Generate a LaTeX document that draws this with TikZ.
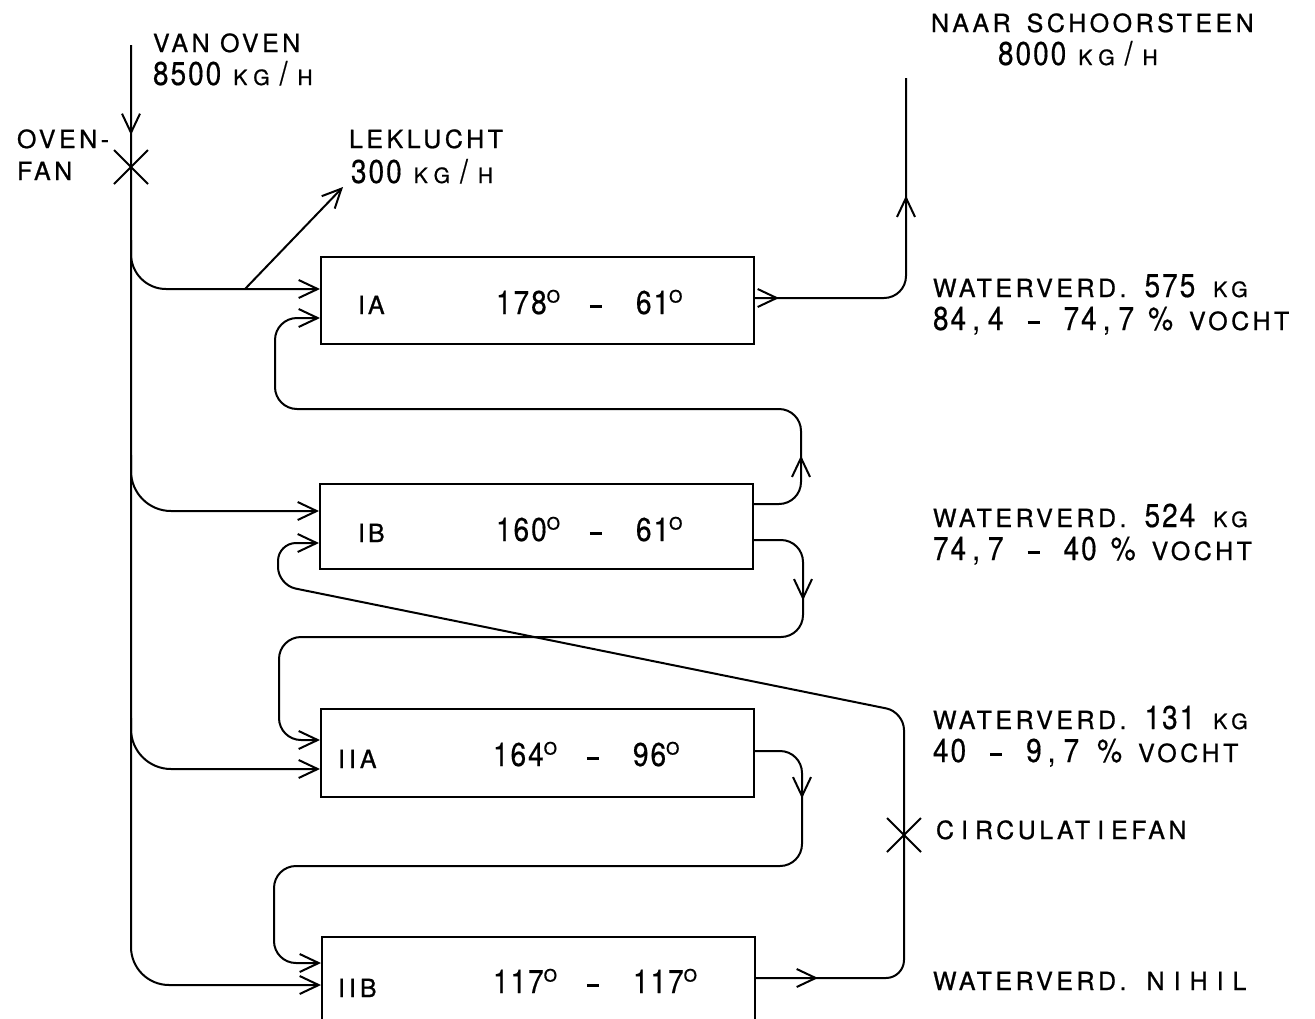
\documentclass[tikz,border=0pt]{standalone}
\usepackage{fontspec}
\setmainfont{TeX Gyre Heros}[LetterSpace=14,FakeBold=0.8]
\newfontfamily\digitfont{TeX Gyre Heros}[FakeStretch=0.85,LetterSpace=6,FakeBold=0.4]
\usetikzlibrary{arrows.meta,decorations.markings,shapes.misc}

\newcommand{\dg}[1]{{\digitfont\fontsize{33}{36}\selectfont #1}}
\newcommand{\sm}[1]{{\fontsize{21}{24}\selectfont #1}}
\newcommand{\degr}[1]{\dg{#1}\raisebox{11.5pt}{\fontsize{17}{17}\selectfont O}}
\newcommand{\dsh}{\rule[6pt]{12pt}{3.2pt}}
\newcommand{\cma}{\hspace{6pt}\dg{,}\hspace{8pt}}
\newcommand{\kgh}{\sm{K\hspace{6pt}G}\hspace{10pt}\dg{/}\hspace{10pt}\sm{H}}

\begin{document}
\begin{tikzpicture}[
    x=1pt, y=-1pt,
    line width=2pt,
    >={Straight Barb[length=19pt,width=18pt]},
    dryer/.style={
        draw,
        rectangle,
        minimum width=433pt,
        inner sep=0pt
    },
    lbl/.style={
        anchor=base west,
        inner sep=0pt,
        font=\fontsize{25}{30}\selectfont
    },
    fan/.style={
        draw,
        cross out,
        minimum size=32pt,
        inner sep=0pt
    },
    pipe/.style={
        rounded corners=22pt
    },
    flow/.style={
        pipe,
        ->
    },
    arrowat/.style={
        postaction={decorate, decoration={markings, mark=at position #1 with {\arrow{>}}}}
    }
]
\useasboundingbox (0,0) rectangle (1315,1018);
\clip (0,0) rectangle (1315,1018);

% drying sections
\node[dryer, minimum height=87pt] (IA) at (537.5,300.5) {};
\node[dryer, minimum height=85pt] (IB) at (536.5,526.5) {};
\node[dryer, minimum height=88pt] (IIA) at (537.5,753) {};
\node[dryer, minimum height=103pt] (IIB) at (538.5,988.5) {};

\node[lbl] (IAname) at (357,314) {I\hspace{3pt}A};
\node[lbl] (IAtemp) at (495,314) {\degr{178}\hspace{30pt}\dsh\hspace{34pt}\degr{61}};
\node[lbl] (IBname) at (357,542) {I\hspace{3pt}B};
\node[lbl] (IBtemp) at (495,541) {\degr{160}\hspace{30pt}\dsh\hspace{34pt}\degr{61}};
\node[lbl] (IIAname) at (337,768) {I\hspace{4pt}I\hspace{4pt}A};
\node[lbl] (IIAtemp) at (492,766) {\degr{164}\hspace{30pt}\dsh\hspace{34pt}\degr{96}};
\node[lbl] (IIBname) at (337,997) {I\hspace{4pt}I\hspace{4pt}B};
\node[lbl] (IIBtemp) at (492,993) {\degr{117}\hspace{30pt}\dsh\hspace{34pt}\degr{117}};

% fans
\node[fan] (ovenfan) at (131,167) {};
\node[fan] (circfan) at (904,835) {};

% free ends
\coordinate (oven) at (131,45);
\coordinate (stack) at (906,78);
\coordinate (leak) at (343,187);
\coordinate (leakoff) at (245,289);
\coordinate (tapA) at (131,240);
\coordinate (tapB) at (131,455);
\coordinate (tapC) at (131,718);

% fresh gas from the oven
\draw[flow, rounded corners=38pt, arrowat=90pt] (oven) |- ([yshift=3.5pt]IIB.west);
\draw[flow, rounded corners=35pt] (tapA) |- ([yshift=11.5pt]IA.west);
\draw[flow, rounded corners=40pt] (tapB) |- ([yshift=15.5pt]IB.west);
\draw[flow, rounded corners=40pt] (tapC) |- ([yshift=-16pt]IIA.west);
\draw[->] (leakoff) -- (leak);

% exhaust
\draw[pipe, arrowat=24pt, arrowat=244pt] ([yshift=2.5pt]IA.east) -| (stack);

% recirculation
\draw[flow, arrowat=86pt] ([yshift=22.5pt]IB.east) -- (801,504) -- (801,409) -- (275,409) -- (275,318) -- ([yshift=-17.5pt]IA.west);
\draw[flow, arrowat=100pt] ([yshift=-13.5pt]IB.east) -- (803,540) -- (803,637) -- (279,637) -- (279,740) -- ([yshift=13pt]IIA.west);
\draw[flow, arrowat=85pt] ([yshift=2pt]IIA.east) -- (802,751) -- (802,866) -- (274,866) -- (274,963) -- ([yshift=25.5pt]IIB.west);
\draw[flow, rounded corners=18pt, arrowat=62pt] ([yshift=10.5pt]IIB.east) -- (904,978) -- (904,712) -- (278,585) -- (278,543) -- ([yshift=-16.5pt]IB.west);

% labels
\node[lbl] (vanoven) at (152,52) {VAN OVEN};
\node[lbl] (ovenflow) at (152,85) {\dg{8500}\hspace{12pt}\kgh};
\node[lbl] (ovenfanA) at (16,148) {OVEN-};
\node[lbl] (ovenfanB) at (16,180) {FAN};
\node[lbl] (leklucht) at (348,148) {LEKLUCHT};
\node[lbl] (lekflow) at (350,183) {\dg{300}\hspace{12pt}\kgh};
\node[lbl] (naar) at (930,32) {NAAR\hspace{16pt}SCHOORSTEEN};
\node[lbl] (naarflow) at (997,65) {\dg{8000}\hspace{12pt}\kgh};

\node[lbl] (evapA) at (932,297) {WATERVERD.\hspace{18pt}\dg{575}\hspace{18pt}\sm{K\hspace{4pt}G}};
\node[lbl] (moistA) at (932,330) {\dg{84\cma 4}\hspace{24pt}\dsh\hspace{24pt}\dg{74\cma 7}\hspace{14pt}\dg{\%}\hspace{16pt}VOCHT};
\node[lbl] (evapB) at (932,527) {WATERVERD.\hspace{18pt}\dg{524}\hspace{18pt}\sm{K\hspace{4pt}G}};
\node[lbl] (moistB) at (932,560) {\dg{74\cma 7}\hspace{24pt}\dsh\hspace{24pt}\dg{40}\hspace{14pt}\dg{\%}\hspace{16pt}VOCHT};
\node[lbl] (evapC) at (932,729) {WATERVERD.\hspace{18pt}\dg{131}\hspace{18pt}\sm{K\hspace{4pt}G}};
\node[lbl] (moistC) at (932,762) {\dg{40}\hspace{24pt}\dsh\hspace{24pt}\dg{9\cma 7}\hspace{18pt}\dg{\%}\hspace{16pt}VOCHT};
\node[lbl] (circlbl) at (935,839) {C\hspace{7pt}I\hspace{7pt}RCULAT\hspace{7pt}I\hspace{7pt}EFAN};
\node[lbl] (evapD) at (932,990) {WATERVERD.\hspace{20pt}N\hspace{9pt}I\hspace{9pt}H\hspace{9pt}I\hspace{9pt}L};

\end{tikzpicture}
\end{document}
